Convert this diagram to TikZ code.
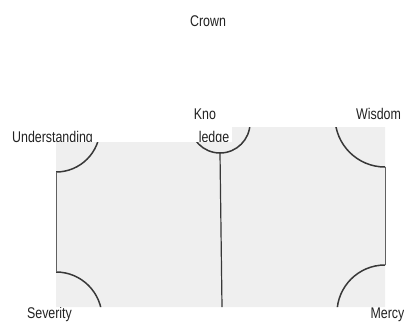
\documentclass[tikz,border=0pt]{standalone}
\usepackage{fontspec}
\setmainfont{Liberation Sans}[FakeStretch=0.8]
\definecolor{paper}{HTML}{EFEFEF}
\definecolor{ink}{HTML}{383838}
\definecolor{txt}{HTML}{222222}
\begin{document}
\begin{tikzpicture}[x=1pt,y=-1pt,
  lbl/.style={anchor=base,inner sep=0pt,text=txt,font=\fontsize{15.5}{17}\selectfont},
  arcline/.style={draw=ink,line width=1.5pt},
  edgeline/.style={draw=ink!80,line width=1pt}]
\useasboundingbox (0,0) rectangle (404,322);
% labels (drawn before the page so that it hides their descenders)
\node[lbl] (crown) at (208,26.5) {Crown};
\node[lbl] (kno) at (205,119) {Kno};
\node[lbl] (ledge) at (214,142) {ledge};
\node[lbl] (wisdom) at (378.5,119) {Wisdom};
\node[lbl] (under) at (52.5,142) {Understanding};
\node[lbl] (severity) at (49.5,318) {Severity};
\node[lbl] (mercy) at (387.5,318) {Mercy};
% page
\fill[paper] (56,307) -- (56,142) -- (232,142) -- (232,127) -- (385,127) -- (385,307) -- cycle;
% arc centres
\coordinate (cU) at (56,128);
\coordinate (cK) at (220,123);
\coordinate (cW) at (385,117);
\coordinate (cS) at (56,318);
\coordinate (cM) at (385,313);
\coordinate (kbot) at (220,153);
\coordinate (lbot) at (222,307);
\begin{scope}
\clip (56,307) -- (56,142) -- (232,142) -- (232,127) -- (385,127) -- (385,307) -- cycle;
\draw[arcline] (cU) circle[radius=44];
\draw[arcline] (cK) circle[radius=30];
\draw[arcline] (cW) circle[radius=50];
\draw[arcline] (cS) circle[radius=46];
\draw[arcline] (cM) circle[radius=48];
\end{scope}
% edges and stem
\coordinate (le1) at (56,172);
\coordinate (le2) at (56,272);
\coordinate (re1) at (385,167);
\coordinate (re2) at (385,265);
\draw[edgeline] (le1) -- (le2);
\draw[edgeline] (re1) -- (re2);
\draw[arcline,line width=1.2pt] (kbot) -- (lbot);
\end{tikzpicture}
\end{document}
